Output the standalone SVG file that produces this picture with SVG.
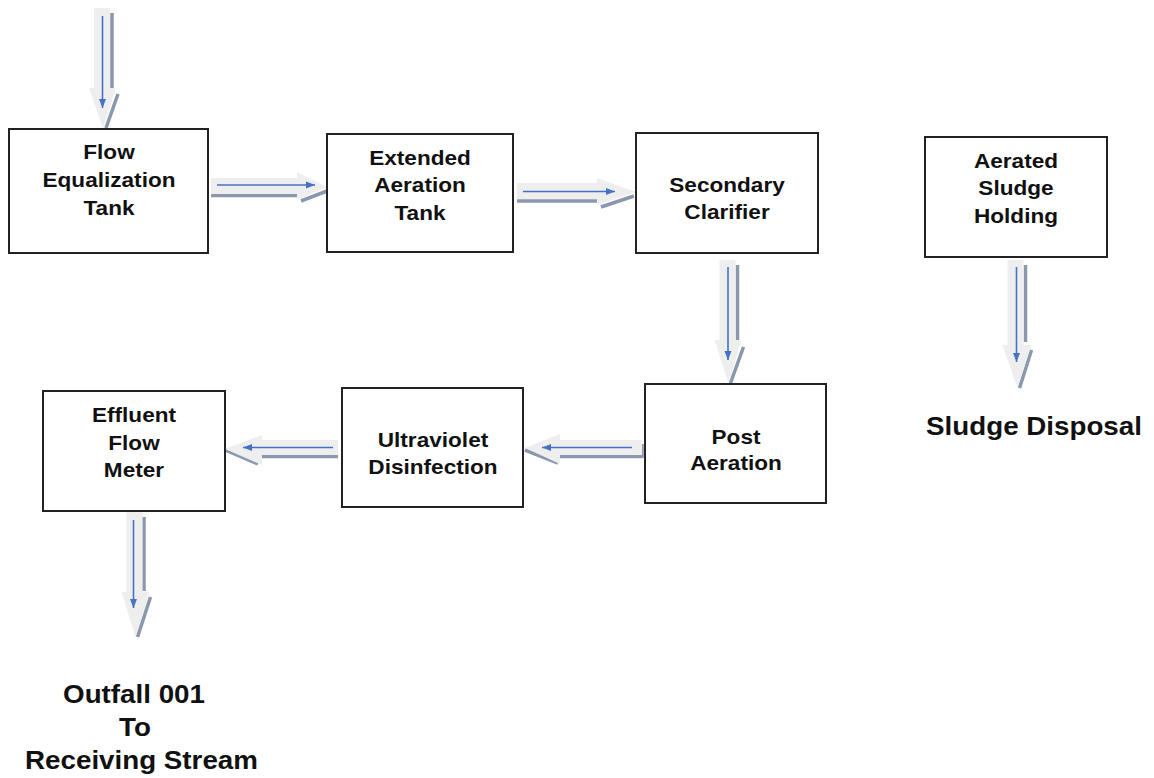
<svg xmlns="http://www.w3.org/2000/svg" width="1154" height="778" viewBox="0 0 1154 778">
<style>
.box{fill:#ffffff;stroke:#222222;stroke-width:2}
.lbl{font-family:"Liberation Sans",Arial,sans-serif;font-weight:bold;font-size:20px;fill:#111111;text-anchor:middle}
.big{font-family:"Liberation Sans",Arial,sans-serif;font-weight:bold;font-size:25px;fill:#111111;text-anchor:middle}
.body{fill:#eeeeee;stroke:none}
.shd{fill:none;stroke:#8a97ad;stroke-width:3.5}
.flow{fill:none;stroke:#4472c4;stroke-width:1.6;marker-end:url(#bh)}
</style>
<defs>
<marker id="bh" markerUnits="userSpaceOnUse" markerWidth="10" markerHeight="8" refX="9" refY="3.5" orient="auto">
<path d="M0,0 L9,3.5 L0,7 Z" fill="#4472c4"/>
</marker>
</defs>
<rect width="1154" height="778" fill="#ffffff"/>

<g id="connectors">
  <!-- A: inflow down into Flow Equalization -->
  <g id="arrow-in" transform="translate(102,8)">
    <path class="shd" d="M10,5 V80 M16,86 L4,120"/>
    <path class="body" d="M-8,0 H8 V80 H14 L1,120 L-13,80 H-8 Z"/>
    <path class="flow" d="M0.5,8 V100"/>
  </g>
  <!-- B: Flow Equalization -> Extended Aeration -->
  <g id="arrow-eq-ext" transform="matrix(0,1,1,0,211,186)">
    <path class="shd" d="M9.5,0 V86 M15,90 L5,116"/>
    <path class="body" d="M-8,0 H8 V86 H14 L1,116 L-14,86 H-8 Z"/>
    <path class="flow" d="M-1,6 V104"/>
  </g>
  <!-- D: Extended Aeration -> Secondary Clarifier -->
  <g id="arrow-ext-sec" transform="matrix(0,1,1,0,517,191)">
    <path class="shd" d="M10,0 V80 M16,84 L5,117"/>
    <path class="body" d="M-8,0 H8 V80 H14 L1,119 L-13,80 H-8 Z"/>
    <path class="flow" d="M0.5,6 V98"/>
  </g>
  <!-- C: Secondary Clarifier -> Post Aeration -->
  <g id="arrow-sec-post" transform="translate(727.5,260)">
    <path class="shd" d="M10,5 V80 M16,87 L3,123"/>
    <path class="body" d="M-8,0 H8 V80 H14 L1,123 L-13,80 H-8 Z"/>
    <path class="flow" d="M0.5,7 V100"/>
  </g>
  <!-- E: Post Aeration -> Ultraviolet Disinfection -->
  <g id="arrow-post-uv" transform="matrix(0,1,-1,0,642,447)">
    <path class="shd" d="M-3,0 H11 M9.5,0 V82 M16,84 L3,117"/>
    <path class="body" d="M-7,0 H8 V82 H17 L1,117 L-13,82 H-7 Z"/>
    <path class="flow" d="M0.5,10 V100"/>
  </g>
  <!-- F: Ultraviolet Disinfection -> Effluent Flow Meter -->
  <g id="arrow-uv-eff" transform="matrix(0,1,-1,0,338,447)">
    <path class="shd" d="M9.5,0 V76 M17,80 L3,113"/>
    <path class="body" d="M-7,0 H8 V76 H18 L2,113 L-12,76 H-7 Z"/>
    <path class="flow" d="M0.5,5 V95"/>
  </g>
  <!-- G: Effluent Flow Meter -> Outfall -->
  <g id="arrow-eff-out" transform="translate(134.5,511)">
    <path class="shd" d="M9.5,6 V80 M16,86 L3,126"/>
    <path class="body" d="M-8,0 H8 V81 H15 L1,126 L-13,81 H-8 Z"/>
    <path class="flow" d="M-1,9 V97"/>
  </g>
  <!-- H: Aerated Sludge Holding -> Sludge Disposal -->
  <g id="arrow-sludge" transform="translate(1015.5,260)">
    <path class="shd" d="M10,5 V82 M16,90 L4,128"/>
    <path class="body" d="M-8,0 H8 V85 H16 L2,128 L-13,85 H-8 Z"/>
    <path class="flow" d="M1,7 V102"/>
  </g>
</g>

<g id="node-flow-eq">
  <rect class="box" x="9" y="129" width="199" height="124"/>
  <text class="lbl" transform="translate(109,0) scale(1.13,1)"><tspan x="0" y="159">Flow</tspan><tspan x="0" y="187">Equalization</tspan><tspan x="0" y="215">Tank</tspan></text>
</g>
<g id="node-ext-aer">
  <rect class="box" x="327" y="134" width="186" height="118"/>
  <text class="lbl" transform="translate(420,0) scale(1.13,1)"><tspan x="0" y="165">Extended</tspan><tspan x="0" y="192.5">Aeration</tspan><tspan x="0" y="220">Tank</tspan></text>
</g>
<g id="node-sec-clar">
  <rect class="box" x="636" y="133" width="182" height="120"/>
  <text class="lbl" transform="translate(727,0) scale(1.13,1)"><tspan x="0" y="192">Secondary</tspan><tspan x="0" y="219">Clarifier</tspan></text>
</g>
<g id="node-sludge-hold">
  <rect class="box" x="925" y="137" width="182" height="120"/>
  <text class="lbl" transform="translate(1016,0) scale(1.13,1)"><tspan x="0" y="168">Aerated</tspan><tspan x="0" y="195.5">Sludge</tspan><tspan x="0" y="223">Holding</tspan></text>
</g>
<g id="node-post-aer">
  <rect class="box" x="645" y="384" width="181" height="119"/>
  <text class="lbl" transform="translate(736,0) scale(1.13,1)"><tspan x="0" y="444">Post</tspan><tspan x="0" y="470">Aeration</tspan></text>
</g>
<g id="node-uv">
  <rect class="box" x="342" y="388" width="181" height="119"/>
  <text class="lbl" transform="translate(433,0) scale(1.13,1)"><tspan x="0" y="447">Ultraviolet</tspan><tspan x="0" y="474">Disinfection</tspan></text>
</g>
<g id="node-effluent">
  <rect class="box" x="43" y="391" width="182" height="120"/>
  <text class="lbl" transform="translate(134,0) scale(1.13,1)"><tspan x="0" y="422">Effluent</tspan><tspan x="0" y="450">Flow</tspan><tspan x="0" y="477">Meter</tspan></text>
</g>
<g id="node-sludge-disposal">
  <text class="big" transform="translate(1034,0) scale(1.11,1)" x="0" y="435">Sludge Disposal</text>
</g>
<g id="node-outfall">
  <text class="big" transform="translate(134,0) scale(1.11,1)" x="0" y="703">Outfall 001</text>
  <text class="big" transform="translate(135,0) scale(1.11,1)" x="0" y="736">To</text>
  <text class="big" transform="translate(141.5,0) scale(1.11,1)" x="0" y="769">Receiving Stream</text>
</g>
</svg>
